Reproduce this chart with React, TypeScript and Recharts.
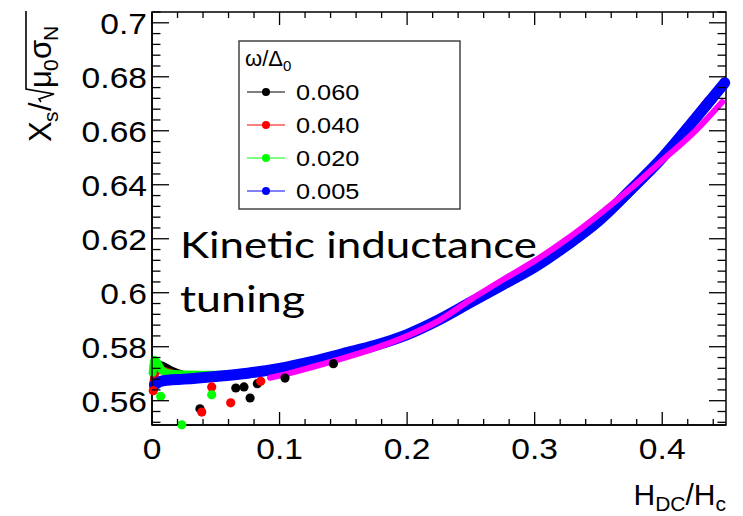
import React from 'react'
import { ComposedChart, Line, XAxis, YAxis, ReferenceArea } from 'recharts'

// tick labels
const xMajor = [0, 0.1, 0.2, 0.3, 0.4]
const xLabels = ['0', '0.1', '0.2', '0.3', '0.4']
const yMajor = [0.56, 0.58, 0.6, 0.62, 0.64, 0.66, 0.68, 0.7]
const yLabels = ['0.56', '0.58', '0.6', '0.62', '0.64', '0.66', '0.68', '0.7']

// omega/Delta0 = 0.005 (blue)
const blueH = [0.002, 0.006, 0.012, 0.025, 0.05, 0.075, 0.1, 0.125, 0.15, 0.175, 0.2, 0.225, 0.25, 0.275, 0.3, 0.325, 0.35, 0.375, 0.4, 0.425, 0.449]
const blueX = [0.5658, 0.567, 0.5676, 0.568, 0.569, 0.5702, 0.572, 0.5745, 0.5775, 0.5805, 0.5845, 0.59, 0.5965, 0.603, 0.6095, 0.6175, 0.6265, 0.638, 0.65, 0.664, 0.6778]

// 0.060 (black)
const blackH = [0.001, 0.004, 0.008, 0.015, 0.03, 0.06, 0.1, 0.15, 0.2, 0.25, 0.3, 0.35, 0.4, 0.44]
const blackX = [0.566, 0.5735, 0.573, 0.5712, 0.5692, 0.5694, 0.5716, 0.5771, 0.5842, 0.5962, 0.6092, 0.6262, 0.6497, 0.6718]
const blackDotH = [0.0376, 0.0657, 0.0721, 0.0769, 0.0826, 0.1043, 0.1422]
const blackDotX = [0.557, 0.5647, 0.5651, 0.561, 0.5663, 0.5684, 0.5737]

// 0.040 (red)
const redH = [0.001, 0.003, 0.008, 0.02, 0.05, 0.1, 0.15, 0.2, 0.25, 0.3, 0.35, 0.4, 0.436]
const redX = [0.5637, 0.5715, 0.5712, 0.5696, 0.5692, 0.5718, 0.5774, 0.5845, 0.5966, 0.6096, 0.6266, 0.6502, 0.6712]
const redDotH = [0.001, 0.039, 0.0468, 0.0617, 0.0852]
const redDotX = [0.5637, 0.5558, 0.5651, 0.5592, 0.5672]

// 0.020 (green)
const greenH = [0.0005, 0.002, 0.004, 0.008, 0.015, 0.028, 0.05, 0.1, 0.15, 0.2, 0.25, 0.3, 0.35, 0.4, 0.44]
const greenX = [0.5704, 0.5752, 0.5742, 0.5712, 0.57, 0.5697, 0.5696, 0.5719, 0.5774, 0.5845, 0.5965, 0.6095, 0.6264, 0.65, 0.672]
const greenDotH = [0.0068, 0.0233, 0.0468]
const greenDotX = [0.5616, 0.5511, 0.5622]

// magenta curve (no legend entry)
const fitH = [0.0925, 0.1, 0.125, 0.15, 0.175, 0.2, 0.225, 0.25, 0.275, 0.3, 0.325, 0.35, 0.375, 0.4, 0.425, 0.447]
const fitX = [0.5685, 0.5693, 0.5724, 0.5758, 0.5795, 0.584, 0.5897, 0.5975, 0.6048, 0.6118, 0.6198, 0.6288, 0.6385, 0.649, 0.6595, 0.6707]

const legendItems = ['0.060', '0.040', '0.020', '0.005']
const legendColors = ['#000000', '#ff0000', '#00ff00', '#0000ff']

const rows = (h: number[], v: number[]) => h.map((x, i) => ({ h: x, v: v[i] }))

const W = 743
const H = 516
const LEFT = 152
const TOP = 12
const RIGHT = 726
const BOTTOM = 425
const X_DOMAIN = [0, 0.45]
const Y_DOMAIN = [0.551, 0.704]
const xTicks = Array.from({ length: 23 }, (_, i) => Math.round(i * 2) / 100)
const yTicks = Array.from({ length: 39 }, (_, i) => Math.round(552 + i * 4) / 1000)
const FONT = '"Liberation Sans", Arial, sans-serif'

const isMajor = (list: number[], v: number) => list.findIndex(m => Math.abs(m - v) < 1e-6)

const XTick = (props: any) => {
  const { x, y, payload } = props
  const idx = isMajor(xMajor, payload.value)
  const len = idx >= 0 ? 13 : 6
  return (
    <g>
      <line x1={x} y1={y} x2={x} y2={y - len} stroke="#000" strokeWidth={1.3} />
      <line x1={x} y1={TOP} x2={x} y2={TOP + len} stroke="#000" strokeWidth={1.3} />
      {idx >= 0 && (
        <text transform={`translate(${x},${y + 34}) scale(1.12,1)`} textAnchor="middle" fontFamily={FONT} fontSize={30} fill="#000">
          {xLabels[idx]}
        </text>
      )}
    </g>
  )
}

const YTick = (props: any) => {
  const { x, y, payload } = props
  const idx = isMajor(yMajor, payload.value)
  const len = idx >= 0 ? 17 : 8.5
  return (
    <g>
      <line x1={x} y1={y} x2={x + len} y2={y} stroke="#000" strokeWidth={1.3} />
      <line x1={RIGHT} y1={y} x2={RIGHT - len} y2={y} stroke="#000" strokeWidth={1.3} />
      {idx >= 0 && (
        <text transform={`translate(${x - 5},${y + 11}) scale(1.12,1)`} textAnchor="end" fontFamily={FONT} fontSize={30} fill="#000">
          {yLabels[idx]}
        </text>
      )}
    </g>
  )
}

const curve = (data: any[], color: string, width: number) => (
  <Line data={data} dataKey="v" type="monotone" stroke={color} strokeWidth={width} strokeLinecap="round" strokeLinejoin="round" dot={false} activeDot={false} isAnimationActive={false} />
)

const dots = (data: any[], color: string) => (
  <Line data={data} dataKey="v" stroke="none" dot={{ r: 4.6, fill: color, stroke: 'none' }} activeDot={false} isAnimationActive={false} />
)

export default function App() {
  return (
    <div style={{ position: 'absolute', left: 0, top: 0, width: W, height: H, background: '#fff' }}>
      <ComposedChart width={W} height={H} margin={{ top: TOP, right: W - RIGHT, bottom: H - BOTTOM - 40, left: LEFT - 60 }}>
        <XAxis dataKey="h" type="number" domain={X_DOMAIN} ticks={xTicks} interval={0} tickSize={0} tickMargin={0} height={40} tick={<XTick />} axisLine={{ stroke: '#000', strokeWidth: 1.5 }} tickLine={false} />
        <YAxis type="number" domain={Y_DOMAIN} ticks={yTicks} interval={0} tickSize={0} tickMargin={0} width={60} tick={<YTick />} axisLine={{ stroke: '#000', strokeWidth: 1.5 }} tickLine={false} />
        <ReferenceArea x1={0} x2={0.45} y1={0.551} y2={0.704} fill="none" stroke="#000" strokeWidth={1.5} ifOverflow="visible" />
        {curve(rows(blackH, blackX), '#000000', 8)}
        {dots(rows(blackDotH, blackDotX), '#000000')}
        {curve(rows(redH, redX), '#ff0000', 8)}
        {dots(rows(redDotH, redDotX), '#ff0000')}
        {curve(rows(greenH, greenX), '#00ff00', 8)}
        {dots(rows(greenDotH, greenDotX), '#00ff00')}
        {curve(rows(blueH, blueX), '#0000ff', 11)}
        {curve(rows(fitH, fitX), '#ff00ff', 6)}
      </ComposedChart>
      <svg width={W} height={H} style={{ position: 'absolute', left: 0, top: 0, pointerEvents: 'none' }}>
        {/* y axis title */}
        <g transform="translate(51,142) rotate(-90)" fontFamily={FONT} fill="#000">
          <text x={0} y={0} fontSize={31}>X</text>
          <text x={20} y={7} fontSize={21}>s</text>
          <text x={31} y={0} fontSize={31}>/</text>
          <path d="M40,-10 L43,-12 L48,3 L53,-25 L131,-25" fill="none" stroke="#000" strokeWidth={1.6} />
          <text x={54} y={0} fontSize={31}>μ</text>
          <text x={71} y={7} fontSize={21}>0</text>
          <text x={83} y={0} fontSize={31}>σ</text>
          <text x={101} y={7} fontSize={21}>N</text>
        </g>
        {/* x axis title */}
        <g fontFamily={FONT} fill="#000">
          <text x={RIGHT} y={505} textAnchor="end" fontSize={30}>
            H<tspan fontSize={21} dy={6}>DC</tspan><tspan dy={-6}>/H</tspan><tspan fontSize={21} dy={6}>c</tspan>
          </text>
        </g>
        {/* legend */}
        <rect x={239} y={41} width={221} height={168} fill="none" stroke="#444" strokeWidth={1.5} />
        <text x={245} y={66} fontFamily={FONT} fontSize={22} fill="#000">
          ω/Δ<tspan fontSize={15} dy={5}>0</tspan>
        </text>
        {legendItems.map((label, i) => {
          const cy = 92 + i * 33
          return (
            <g key={label}>
              <line x1={247} y1={cy} x2={285} y2={cy} stroke={legendColors[i]} strokeWidth={1.2} />
              <circle cx={266} cy={cy} r={4} fill={legendColors[i]} />
              <text transform={`translate(296,${cy + 8}) scale(1.15,1)`} fontFamily={FONT} fontSize={22} fill="#000">{label}</text>
            </g>
          )
        })}
        {/* annotation */}
        <text x={180} y={258} fontFamily="Lato, 'Open Sans', sans-serif" fontSize={37} fill="#000" textLength={357} lengthAdjust="spacingAndGlyphs">Kinetic inductance</text>
        <text x={180} y={312} fontFamily="Lato, 'Open Sans', sans-serif" fontSize={37} fill="#000" textLength={125} lengthAdjust="spacingAndGlyphs">tuning</text>
      </svg>
    </div>
  )
}
